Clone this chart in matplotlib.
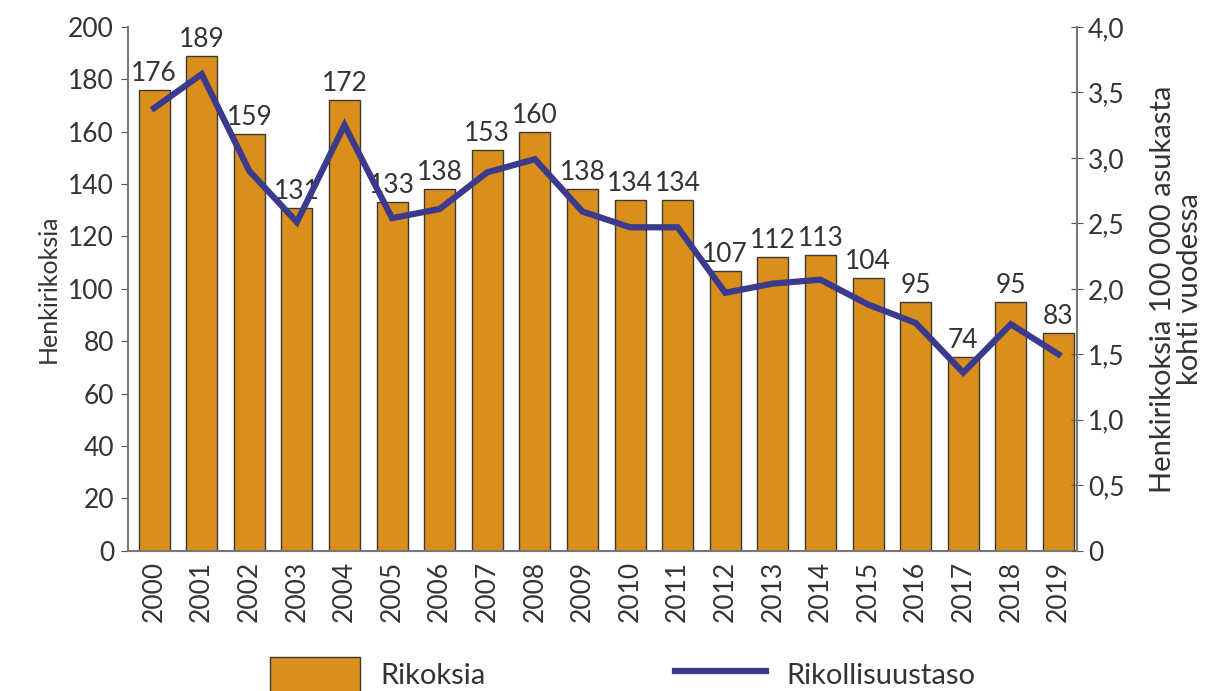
import matplotlib.pyplot as plt
from matplotlib.ticker import FuncFormatter

plt.rcParams['font.family'] = ['Lato', 'DejaVu Sans']

years = [str(y) for y in range(2000, 2020)]
rikoksia = [176, 189, 159, 131, 172, 133, 138, 153, 160, 138,
            134, 134, 107, 112, 113, 104, 95, 74, 95, 83]
taso = [3.38, 3.64, 2.90, 2.51, 3.25, 2.54, 2.61, 2.89, 2.99, 2.59,
        2.47, 2.47, 1.97, 2.04, 2.07, 1.88, 1.74, 1.36, 1.73, 1.50]

bar_col = '#d98f1a'
line_col = '#3c3a8c'
txt_col = '#333333'
spine_col = '#555555'

fig = plt.figure(figsize=(12.3, 6.91), dpi=100)
ax = fig.add_axes([0.104, 0.203, 0.772, 0.758])
ax2 = ax.twinx()

x = list(range(len(years)))
bars = ax.bar(x, rikoksia, width=0.65, color=bar_col, edgecolor='#3a3a3a',
              linewidth=1.0, zorder=2, label='Rikoksia')
for xi, v in zip(x, rikoksia):
    ax.text(xi, v + 1.5, str(v), ha='center', va='bottom', fontsize=19,
            color=txt_col, zorder=5)

ax2.plot(x, taso, color=line_col, linewidth=4.5, solid_joinstyle='miter',
         zorder=3, label='Rikollisuustaso')

ax.set_xlim(-0.55, 19.4)
ax.set_ylim(0, 200)
ax2.set_ylim(0, 4.0)
ax.set_yticks(range(0, 201, 20))
ax2.set_yticks([i * 0.5 for i in range(9)])
ax2.yaxis.set_major_formatter(
    FuncFormatter(lambda v, p: '0' if v == 0 else f'{v:.1f}'.replace('.', ',')))

ax.set_xticks(x)
ax.set_xticklabels(years, rotation=90, fontsize=19, color=txt_col)
ax.tick_params(axis='x', length=0, pad=7)
ax.tick_params(axis='y', direction='out', length=5, labelsize=19,
               colors=spine_col, labelcolor=txt_col, pad=5)
ax2.tick_params(axis='y', direction='inout', length=9, labelsize=19,
                colors=spine_col, labelcolor=txt_col, pad=3)

for a in (ax, ax2):
    a.spines['top'].set_visible(False)
    for s in ('left', 'right', 'bottom'):
        a.spines[s].set_color('#777777')
        a.spines[s].set_linewidth(1.5)
ax2.set_zorder(ax.get_zorder() + 1)
ax2.patch.set_visible(False)
ax.spines['right'].set_visible(False)
ax2.spines['left'].set_visible(False)
ax2.spines['bottom'].set_visible(False)

ax.set_ylabel('Henkirikoksia', fontsize=18, color=txt_col, labelpad=6)
ax2.set_ylabel('Henkirikoksia 100 000 asukasta\nkohti vuodessa', fontsize=21,
               color=txt_col, labelpad=18, linespacing=1.05)

handles = [bars, ax2.get_lines()[0]]
fig.legend(handles, ['Rikoksia', 'Rikollisuustaso'], loc='lower left',
           bbox_to_anchor=(0.198, -0.04), ncol=2, frameon=False, fontsize=21,
           handlelength=3.1, handleheight=1.5, columnspacing=6.5,
           handletextpad=0.7, labelcolor=txt_col)

fig.savefig('out.png', dpi=100)
